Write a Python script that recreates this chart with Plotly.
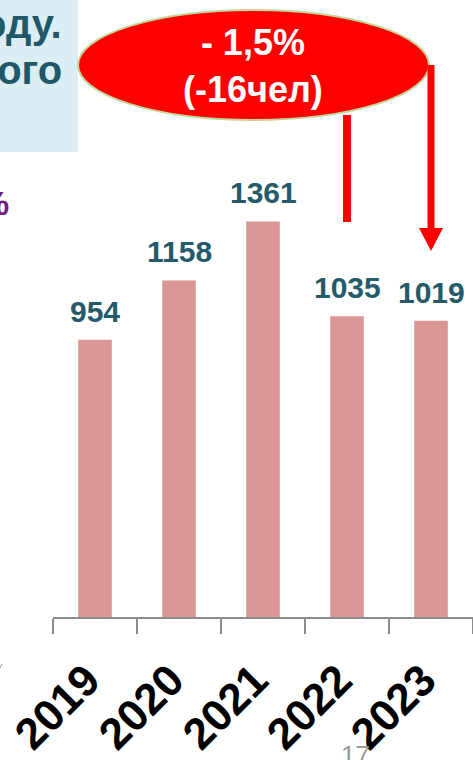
import plotly.graph_objects as go

years = ["2019", "2020", "2021", "2022", "2023"]
values = [954, 1158, 1361, 1035, 1019]
change_line1 = "- 1,5%"
change_line2 = "(-16чел)"
box_lines = ["оду.", "ного"]
page_number = "17"

W, H = 473, 760
L, R, T, B = 53, 0, 0, 143
PW, PH = W - L - R, H - T - B


def px(x):
    return (x - L) / PW


def py(y):
    return (H - B - y) / PH


LABEL_COLOR = "#245a69"
BAR_COLOR = "#d99694"
FONT = "Liberation Sans, Arial, sans-serif"

fig = go.Figure()
fig.add_trace(go.Bar(
    x=years, y=values, marker=dict(color=BAR_COLOR, line=dict(width=0)),
    hoverinfo="skip",
))

annotations = []
for i, v in enumerate(values):
    annotations.append(dict(
        x=i, y=v, xref="x", yref="y", text=f"<b>{v}</b>", showarrow=False,
        yanchor="bottom", yshift=10,
        font=dict(family=FONT, size=30, color=LABEL_COLOR),
    ))

annotations.append(dict(
    x=px(253), y=py(66), xref="paper", yref="paper",
    text=f"<b>{change_line1}</b><br><b>{change_line2}</b>", showarrow=False,
    xanchor="center", yanchor="middle",
    font=dict(family=FONT, size=36, color="white"),
))

annotations.append(dict(
    x=px(64), y=py(38), xref="paper", yref="paper", text=f"<b>{box_lines[0]}</b>",
    showarrow=False, xanchor="right", yanchor="bottom", yshift=-10,
    font=dict(family=FONT, size=40, color="#215868"),
))
annotations.append(dict(
    x=px(64), y=py(84), xref="paper", yref="paper", text=f"<b>{box_lines[1]}</b>",
    showarrow=False, xanchor="right", yanchor="bottom", yshift=-10,
    font=dict(family=FONT, size=40, color="#215868"),
))
annotations.append(dict(
    x=px(11), y=py(203), xref="paper", yref="paper", text="<b>%</b>",
    showarrow=False, xanchor="right", yanchor="middle",
    font=dict(family=FONT, size=34, color="#70207f"),
))
annotations.append(dict(
    x=px(355), y=py(738), xref="paper", yref="paper", text=page_number,
    showarrow=False, xanchor="center", yanchor="top",
    font=dict(family=FONT, size=26, color="#999999"),
))

shapes = [
    dict(type="rect", xref="paper", yref="paper", x0=px(-5), x1=px(78),
         y0=py(152), y1=py(-5), fillcolor="#dbeef4", line=dict(width=0), layer="below"),
    dict(type="circle", xref="paper", yref="paper", x0=px(78), x1=px(429),
         y0=py(120), y1=py(10), fillcolor="#ff0000",
         line=dict(color="#c3d69b", width=2)),
    dict(type="line", xref="paper", yref="paper", x0=px(347), x1=px(347),
         y0=py(115), y1=py(222), line=dict(color="#ff0000", width=8)),
    dict(type="line", xref="paper", yref="paper", x0=px(431), x1=px(431),
         y0=py(65), y1=py(232), line=dict(color="#ff0000", width=7)),
    dict(type="path", xref="paper", yref="paper",
         path=f"M {px(419)} {py(228)} L {px(443)} {py(228)} L {px(431)} {py(251)} Z",
         fillcolor="#ff0000", line=dict(width=0)),
    dict(type="line", xref="paper", yref="paper", x0=px(0), x1=px(2),
         y0=py(668), y1=py(664), line=dict(color="#999999", width=1)),
]

fig.update_layout(
    width=W, height=H,
    margin=dict(l=L, r=R, t=T, b=B, pad=0),
    paper_bgcolor="white", plot_bgcolor="white",
    showlegend=False, bargap=0.6,
    annotations=annotations, shapes=shapes,
    xaxis=dict(
        type="category", range=[-0.5, 4.5], autorange=False,
        showline=True, linecolor="#8c8c8c", linewidth=1.5,
        ticks="outside", ticklen=15, tickcolor="#8c8c8c", tickwidth=1.5,
        tickson="boundaries", tickangle=-45, showgrid=False, zeroline=False,
        tickfont=dict(family=FONT, size=44, color="black"),
        tickprefix="<b>", ticksuffix="</b>",
        ticklabelstandoff=18, ticklabelshift=-8,
    ),
    yaxis=dict(visible=False, range=[0, 2123], autorange=False,
               showgrid=False, zeroline=False),
)

fig.write_html(
    "out.html",
    config={"displayModeBar": False, "staticPlot": True},
    post_script="document.body.style.margin='0';document.body.style.overflow='hidden';",
)
